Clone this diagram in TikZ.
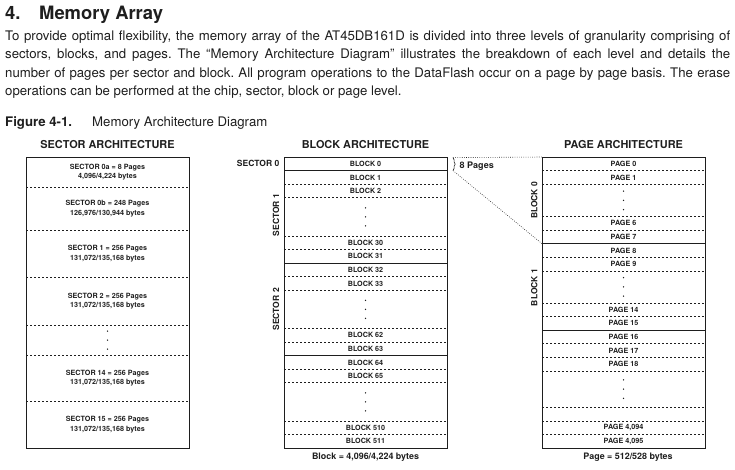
\documentclass[tikz,border=0pt]{standalone}
\usepackage{fontspec}
\setmainfont{TeX Gyre Heros}
\usetikzlibrary{decorations.pathreplacing}
\definecolor{inkc}{HTML}{1E1E1E}
\frenchspacing

\begin{document}
\begin{tikzpicture}[x=1pt,y=-1pt,
  archbox/.style={draw=inkc, line width=1pt, inner sep=0pt, anchor=north west},
  rowsolid/.style={draw=inkc, line width=0.9pt},
  rowdash/.style={draw=inkc, line width=0.8pt, dash pattern=on 2pt off 2pt},
  guide/.style={draw=inkc, line width=0.6pt, dash pattern=on 0.7pt off 1.5pt},
  coltitle/.style={font=\fontsize{10.9}{13}\selectfont\bfseries, anchor=base, inner sep=0pt, text=inkc},
  rowlabel/.style={font=\fontsize{7.2}{8}\selectfont\bfseries, inner sep=0pt, text=inkc},
  seclabel/.style={font=\fontsize{7.2}{9.6}\selectfont\bfseries, inner sep=0pt, align=center, text=inkc},
  sidelabel/.style={font=\fontsize{8.5}{10}\selectfont\bfseries, inner sep=0pt, text=inkc},
  footlabel/.style={font=\fontsize{8.9}{10}\selectfont\bfseries, anchor=base, inner sep=0pt, text=inkc},
  bodyline/.style={font=\fontsize{13.2}{16}\selectfont, anchor=base west, inner sep=0pt, text=inkc},
  vdot/.style={fill=inkc}
]
\useasboundingbox (0,0) rectangle (735,469);

% ---------- heading and paragraph ----------
\node[bodyline, font=\fontsize{18.4}{20}\selectfont\bfseries] (head) at (5,19.5)
  {\makebox[34pt][l]{4.}Memory Array};
\node[bodyline] (par1) at (5,40.5) {\makebox[725pt][s]{To provide optimal flexibility, the memory array of the AT45DB161D is divided into three levels of granularity comprising of}};
\node[bodyline] (par2) at (5,58.8) {\makebox[725pt][s]{sectors, blocks, and pages. The “Memory Architecture Diagram” illustrates the breakdown of each level and details the}};
\node[bodyline] (par3) at (5,77.1) {\makebox[725pt][s]{number of pages per sector and block. All program operations to the DataFlash occur on a page by page basis. The erase}};
\node[bodyline] (par4) at (5,95.4) {operations can be performed at the chip, sector, block or page level.};
\node[bodyline] (figcap) at (5,126.5) {\makebox[87pt][l]{\bfseries Figure 4-1.}Memory Architecture Diagram};

% ---------- sector architecture ----------
\node[coltitle] (sectitle) at (107.5,148) {SECTOR ARCHITECTURE};
\node[archbox, minimum width=163pt, minimum height=291pt] (secbox) at (26,157) {};
\foreach \y in {187,230,277,325,355,401}
  \draw[rowdash] (26,\y) -- (189,\y);
\node[seclabel] (s0a) at (107.5,172) {SECTOR 0a = 8 Pages\\4,096/4,224 bytes};
\node[seclabel] (s0b) at (107.5,208.5) {SECTOR 0b = 248 Pages\\126,976/130,944 bytes};
\node[seclabel] (s1) at (107.5,253.5) {SECTOR 1 = 256 Pages\\131,072/135,168 bytes};
\node[seclabel] (s2) at (107.5,301) {SECTOR 2 = 256 Pages\\131,072/135,168 bytes};
\node[seclabel] (s14) at (107.5,378) {SECTOR 14 = 256 Pages\\131,072/135,168 bytes};
\node[seclabel] (s15) at (107.5,424.5) {SECTOR 15 = 256 Pages\\131,072/135,168 bytes};
\foreach \y in {331,340,349}
  \fill[vdot] (107.5,\y) circle (0.75pt);

% ---------- block architecture ----------
\node[coltitle] (blktitle) at (365.5,148) {BLOCK ARCHITECTURE};
\node[archbox, minimum width=163pt, minimum height=291pt] (blkbox) at (284,157) {};
\foreach \y in {170.6,263.1,355.6}
  \draw[rowsolid] (284,\y) -- (447,\y);
\foreach \y in {184.2,197.8,235.9,249.5,276.7,290.3,328.4,342.0,369.2,382.8,420.9,434.5}
  \draw[rowdash] (284,\y) -- (447,\y);
\foreach \t/\y in {0/163.8,1/177.4,2/191.0,30/242.7,31/256.3,32/269.9,33/283.5,
                   62/335.2,63/348.8,64/362.4,65/376.0,510/427.7,511/441.3}
  \node[rowlabel] (blk\t) at (365.5,\y) {BLOCK \t};
\foreach \c in {216.85,309.35,401.85}
  \foreach \d in {-9,0,9}
    \fill[vdot] (365.5,\c+\d) circle (0.75pt);
\node[sidelabel, anchor=east] (sec0) at (279.5,163.8) {SECTOR 0};
\node[sidelabel, rotate=90] (sec1) at (276,215) {SECTOR 1};
\node[sidelabel, rotate=90] (sec2) at (276,309.4) {SECTOR 2};
\node[footlabel] (blkfoot) at (365.5,459.5) {Block = 4,096/4,224 bytes};

% ---------- page architecture ----------
\node[coltitle] (pgtitle) at (623.5,148) {PAGE ARCHITECTURE};
\node[archbox, minimum width=163pt, minimum height=291pt] (pgbox) at (542,157) {};
\foreach \y in {243.7,330.1}
  \draw[rowsolid] (542,\y) -- (705,\y);
\foreach \y in {170.6,184.2,216.5,230.1,257.3,270.9,302.9,316.5,343.7,357.3,370.9,407.4,421.0,434.6}
  \draw[rowdash] (542,\y) -- (705,\y);
\foreach \t/\n/\y in {0/0/163.8,1/1/177.4,6/6/223.3,7/7/236.9,8/8/250.5,9/9/264.1,
                      14/14/309.7,15/15/323.3,16/16/336.9,17/17/350.5,18/18/364.1,
                      4094/{4,094}/427.8,4095/{4,095}/441.4}
  \node[rowlabel] (pg\t) at (623.5,\y) {PAGE \n};
\foreach \c in {200.35,286.9,389.15}
  \foreach \d in {-9.3,0,9.3}
    \fill[vdot] (623.5,\c+\d) circle (0.75pt);
\node[sidelabel, rotate=90] (blkzero) at (534.3,200.4) {BLOCK 0};
\node[sidelabel, rotate=90] (blkone) at (534.3,287.5) {BLOCK 1};
\node[footlabel] (pgfoot) at (628,459.5) {Page = 512/528 bytes};

% ---------- block 0 expanded into its eight pages ----------
\coordinate (brtop) at (453,157.6);
\coordinate (brbot) at (453,170.6);
\coordinate (pg7end) at (542,243.7);
\draw[inkc, line width=0.6pt, decorate, decoration={brace, amplitude=2.2pt}] (brtop) -- (brbot);
\node[sidelabel, font=\fontsize{9}{10}\selectfont\bfseries, anchor=base west] (eightpg) at (459.5,168) {8 Pages};
\draw[guide] (brtop) -- (pgbox.north west);
\draw[guide] (brbot) -- (pg7end);
\end{tikzpicture}
\end{document}
